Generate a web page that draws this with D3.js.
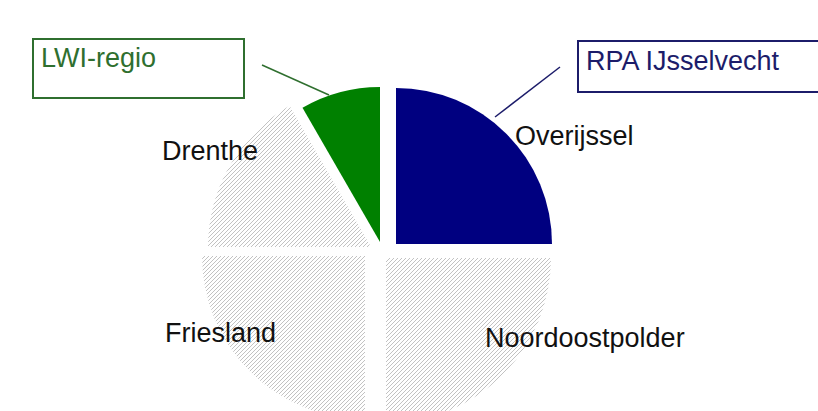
<!DOCTYPE html>
<html>
<head>
<meta charset="utf-8">
<script src="https://cdn.jsdelivr.net/npm/d3@7"></script>
<style>
  html, body { margin: 0; padding: 0; background: #fff; }
  svg { display: block; }
  text { font-family: Arial, "Liberation Sans", sans-serif; }
</style>
</head>
<body>
<svg id="chart" width="818" height="411"></svg>
<script>
// slice data, clockwise from 12 o'clock
const regions = ['Overijssel', 'Noordoostpolder', 'Friesland', 'Drenthe', 'LWI-regio']
const shares = [3, 3, 3, 2, 1]

// callout boxes
const callouts = ['RPA IJsselvecht', 'LWI-regio']

// how each slice is drawn (corner = where the slice tip sits after exploding)
const sliceStyle = {
  'Overijssel':      { fill: '#000080', r: 156, corner: [396, 244], label: [515, 145] },
  'Noordoostpolder': { fill: 'hatch',   r: 165, corner: [386, 258], label: [485, 347] },
  'Friesland':       { fill: 'hatch',   r: 163, corner: [365, 256], label: [165, 342] },
  'Drenthe':         { fill: 'hatch',   r: 163, corner: [371, 247], label: [162, 160] },
  'LWI-regio':       { fill: '#008000', r: 155, corner: [380, 242], label: null }
}

const calloutStyle = {
  'RPA IJsselvecht': { color: '#1c1c6a', box: [578, 41, 260, 51], text: [586, 70], line: [[560, 67], [495, 117]] },
  'LWI-regio':       { color: '#2f6f2f', box: [33, 39, 211, 59], text: [41, 67], line: [[262, 65], [329, 95]] }
}

const svg = d3.select('#chart')

// diagonal hatch used for the grey slices
const defs = svg.append('defs')
const pattern = defs.append('pattern')
  .attr('id', 'hatch')
  .attr('patternUnits', 'userSpaceOnUse')
  .attr('width', 4)
  .attr('height', 4)
pattern.append('path')
  .attr('d', 'M-1,1 L1,-1 M0,4 L4,0 M3,5 L5,3')
  .attr('stroke', '#c2c2c2')
  .attr('stroke-width', 1)
  .attr('fill', 'none')

const pie = d3.pie().sort(null).value(d => d.value)
const arcs = pie(regions.map((name, i) => ({ name, value: shares[i] })))

const slices = svg.append('g')
  .selectAll('g')
  .data(arcs)
  .enter()
  .append('g')
  .attr('transform', d => `translate(${sliceStyle[d.data.name].corner})`)

slices.append('path')
  .attr('d', d => d3.arc().innerRadius(0).outerRadius(sliceStyle[d.data.name].r)(d))
  .attr('fill', d => {
    const f = sliceStyle[d.data.name].fill
    return f === 'hatch' ? 'url(#hatch)' : f
  })
  .attr('stroke', 'none')

// slice labels
svg.append('g')
  .selectAll('text')
  .data(arcs.filter(d => sliceStyle[d.data.name].label))
  .enter()
  .append('text')
  .attr('x', d => sliceStyle[d.data.name].label[0])
  .attr('y', d => sliceStyle[d.data.name].label[1])
  .attr('font-size', 27)
  .attr('fill', '#111')
  .text(d => d.data.name)

// callouts with leader lines
const co = svg.append('g')
  .selectAll('g')
  .data(callouts)
  .enter()
  .append('g')

co.append('line')
  .attr('x1', d => calloutStyle[d].line[0][0])
  .attr('y1', d => calloutStyle[d].line[0][1])
  .attr('x2', d => calloutStyle[d].line[1][0])
  .attr('y2', d => calloutStyle[d].line[1][1])
  .attr('stroke', d => calloutStyle[d].color)
  .attr('stroke-width', 1.5)

co.append('rect')
  .attr('x', d => calloutStyle[d].box[0])
  .attr('y', d => calloutStyle[d].box[1])
  .attr('width', d => calloutStyle[d].box[2])
  .attr('height', d => calloutStyle[d].box[3])
  .attr('fill', '#fff')
  .attr('stroke', d => calloutStyle[d].color)
  .attr('stroke-width', 2)

co.append('text')
  .attr('x', d => calloutStyle[d].text[0])
  .attr('y', d => calloutStyle[d].text[1])
  .attr('font-size', 27)
  .attr('fill', d => calloutStyle[d].color)
  .text(d => d)
</script>
</body>
</html>
